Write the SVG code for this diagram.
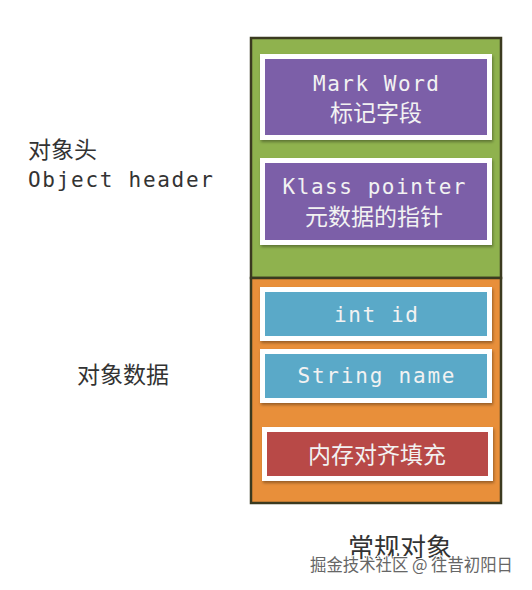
<svg xmlns="http://www.w3.org/2000/svg" width="532" height="590" viewBox="0 0 532 590">
<defs>
<filter id="sh" x="-10%" y="-10%" width="120%" height="130%"><feDropShadow dx="1" dy="2" stdDeviation="1.5" flood-color="#000" flood-opacity="0.35"/></filter>
</defs>
<style>
.box{stroke:#fff;stroke-width:5;filter:url(#sh)}
.mono{font-family:"DejaVu Sans Mono","Liberation Mono",monospace;font-size:21px}
.cjk{font-family:"Noto Sans CJK SC","Noto Sans",sans-serif;font-size:23px}
.in{fill:#f2f2f2;text-anchor:middle}
.lbl{fill:#333}
</style>
<rect width="532" height="590" fill="#fff"/>
<g id="header">
<rect x="251" y="38" width="250" height="240" fill="#8fb24e" stroke="#3b3a20" stroke-width="2.5"/>
</g>
<g id="data">
<rect x="251" y="278" width="250" height="225" fill="#e88f3a" stroke="#3b3a20" stroke-width="2.5"/>
</g>
<g id="markword">
<rect class="box" x="262.5" y="56.5" width="227" height="81" fill="#7b5ea8"/>
<text class="mono in" x="376" y="91" textLength="126" lengthAdjust="spacing">Mark Word</text>
<text class="cjk in" x="376" y="121">标记字段</text>
</g>
<g id="klass">
<rect class="box" x="262.5" y="160.5" width="227" height="82" fill="#7b5ea8"/>
<text class="mono in" x="374" y="194" textLength="183" lengthAdjust="spacing">Klass pointer</text>
<text class="cjk in" x="374" y="225">元数据的指针</text>
</g>
<g id="intid">
<rect class="box" x="262.5" y="289.5" width="227" height="49" fill="#5aa9c8"/>
<text class="mono in" x="376" y="322" textLength="84" lengthAdjust="spacing">int id</text>
</g>
<g id="stringname">
<rect class="box" x="262.5" y="351.5" width="227" height="49" fill="#5aa9c8"/>
<text class="mono in" x="376" y="383" textLength="157" lengthAdjust="spacing">String name</text>
</g>
<g id="padding">
<rect class="box" x="264.5" y="429.5" width="226" height="49" fill="#b84a47"/>
<text class="cjk in" x="377" y="463">内存对齐填充</text>
</g>
<g id="labels">
<text class="cjk lbl" x="28" y="158">对象头</text>
<text class="mono lbl" x="28" y="187" textLength="185" lengthAdjust="spacing">Object header</text>
<text class="cjk lbl" x="77" y="383">对象数据</text>
<text class="cjk lbl" x="348" y="557" style="font-size:26px">常规对象</text>
<text x="310" y="571" textLength="203" lengthAdjust="spacingAndGlyphs" style="font-family:'Noto Sans CJK SC',sans-serif;font-size:17px;fill:#666;stroke:#fff;stroke-width:2;paint-order:stroke">掘金技术社区 @ 往昔初阳日</text>
</g>
<g id="connectors"></g>
</svg>
